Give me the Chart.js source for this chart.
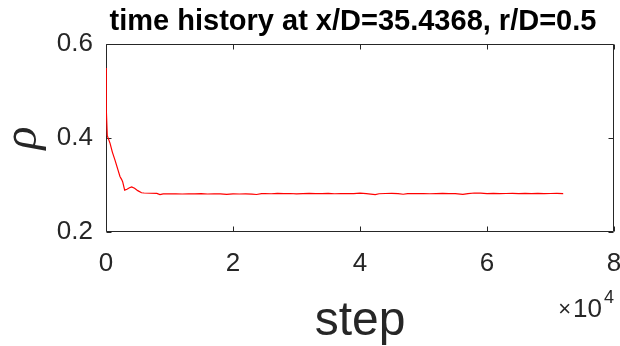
<!DOCTYPE html>
<html>
<head>
<meta charset="utf-8">
<script src="https://cdn.jsdelivr.net/npm/chart.js@4/dist/chart.umd.min.js"></script>
<style>
  html, body { margin: 0; padding: 0; background: #fff; }
  #plot { display: block; }
</style>
</head>
<body>
<canvas id="plot" width="620" height="346"></canvas>
<script>
const titleText = 'time history at x/D=35.4368, r/D=0.5';
const xLabel = 'step';
const yLabel = 'ρ';

// step number and density at the probe
const steps = [
  0, 50, 200, 630, 1000, 1417, 1800, 2200, 2450, 2620, 2940, 3300, 3700, 4040, 4500, 5000, 5600,
  6000, 7000, 8000, 8500, 9000, 10000, 11000, 12000, 13000, 14000, 15000, 16000, 17000, 18000,
  19000, 20000, 21000, 22000, 23000, 23700, 24500, 25000, 26000, 27000, 28000, 29000, 30000,
  31000, 32000, 33000, 34000, 35000, 36000, 37000, 38000, 39000, 40000, 41000, 42400, 43000,
  44000, 45000, 46000, 46800, 47500, 48000, 49000, 50000, 51000, 52000, 53000, 54000, 55000,
  56200, 57000, 58000, 59000, 60000, 61000, 62000, 63000, 64000, 65000, 66000, 67000, 68000,
  69000, 70000, 71000, 72000
];
const rho = [
  0.549, 0.460, 0.405, 0.389, 0.370, 0.353, 0.336, 0.318, 0.312, 0.307, 0.289, 0.291, 0.294, 0.296, 0.293, 0.288, 0.2835,
  0.2830, 0.2824, 0.2822, 0.2795, 0.2812, 0.2810, 0.2814, 0.2808, 0.2812, 0.2810, 0.2815, 0.2809, 0.2811, 0.2813,
  0.2800, 0.2810, 0.2808, 0.2812, 0.2807, 0.2798, 0.2815, 0.2818, 0.2814, 0.2820, 0.2816, 0.2819, 0.2813,
  0.2818, 0.2821, 0.2815, 0.2817, 0.2820, 0.2814, 0.2818, 0.2816, 0.2817, 0.2825, 0.2815, 0.2796, 0.2814,
  0.2819, 0.2822, 0.2817, 0.2803, 0.2816, 0.2818, 0.2815, 0.2819, 0.2814, 0.2817, 0.2820, 0.2815, 0.2818,
  0.2800, 0.2818, 0.2830, 0.2828, 0.2818, 0.2821, 0.2815, 0.2819, 0.2822, 0.2816, 0.2820, 0.2817, 0.2821,
  0.2815, 0.2819, 0.2822, 0.2818
];

const axisColor = '#262626';
const tickFont = { family: '"Liberation Sans", Arial, sans-serif', size: 26 };

// box around the axes with inward tick marks on all four sides
const axesBox = {
  id: 'axesBox',
  beforeDatasetsDraw(chart) {
    const { ctx, chartArea: a, scales: { x, y } } = chart;
    const L = Math.round(a.left) + 0.5, R = Math.round(a.right) - 0.5;
    const T = Math.round(a.top) + 0.5, B = Math.round(a.bottom) - 0.5;
    const len = 5;
    ctx.save();
    ctx.strokeStyle = axisColor;
    ctx.lineWidth = 1;
    ctx.beginPath();
    ctx.rect(L, T, R - L, B - T);
    x.ticks.forEach(t => {
      const px = Math.round(x.getPixelForValue(t.value)) + 0.5;
      ctx.moveTo(px, B); ctx.lineTo(px, B - len);
      ctx.moveTo(px, T); ctx.lineTo(px, T + len);
    });
    y.ticks.forEach(t => {
      const py = Math.round(y.getPixelForValue(t.value)) + 0.5;
      ctx.moveTo(L, py); ctx.lineTo(L + len, py);
      ctx.moveTo(R, py); ctx.lineTo(R - len, py);
    });
    ctx.stroke();
    ctx.restore();
  },
  afterDraw(chart) {
    const { ctx, chartArea: a } = chart;
    ctx.save();
    // title over the axes
    ctx.fillStyle = '#000';
    ctx.font = 'bold 29px "Liberation Sans", Arial, sans-serif';
    ctx.textAlign = 'center';
    ctx.textBaseline = 'alphabetic';
    ctx.fillText(titleText, (a.left + a.right) / 2 - 7, 30);
    // x10^4 multiplier under the right end of the x axis
    ctx.fillStyle = axisColor;
    ctx.textAlign = 'right';
    ctx.font = '26px "Liberation Sans", Arial, sans-serif';
    ctx.fillText('10', a.right - 12, 317);
    ctx.font = '22px "Liberation Sans", Arial, sans-serif';
    ctx.fillText('×', a.right - 43, 316);
    ctx.textAlign = 'left';
    ctx.font = '18px "Liberation Sans", Arial, sans-serif';
    ctx.fillText('4', a.right - 10, 303);
    ctx.restore();
  }
};

new Chart(document.getElementById('plot'), {
  type: 'line',
  data: {
    datasets: [{
      data: steps.map((s, i) => ({ x: s, y: rho[i] })),
      borderColor: '#ff0000',
      borderWidth: 1.2,
      pointRadius: 0,
      tension: 0,
      fill: false
    }]
  },
  plugins: [axesBox],
  options: {
    responsive: false,
    animation: false,
    devicePixelRatio: 1,
    layout: { padding: { top: 44, right: 6, bottom: 0, left: 0 } },
    plugins: {
      legend: { display: false },
      tooltip: { enabled: false },
      title: { display: false }
    },
    scales: {
      x: {
        type: 'linear',
        min: 0,
        max: 80000,
        grid: { display: false, drawTicks: false },
        border: { display: false },
        ticks: {
          stepSize: 20000,
          autoSkip: false,
          maxRotation: 0,
          padding: 16,
          color: axisColor,
          font: tickFont,
          callback: v => String(v / 10000)
        },
        title: {
          display: true,
          text: xLabel,
          color: axisColor,
          font: { family: '"Liberation Sans", Arial, sans-serif', size: 48, lineHeight: 1 },
          padding: 0
        },
        afterFit(scale) {
          scale.height = 114;
          scale.paddingLeft = 0;
          scale.paddingRight = 0;
        }
      },
      y: {
        min: 0.2,
        max: 0.6,
        grid: { display: false, drawTicks: false },
        border: { display: false },
        ticks: {
          stepSize: 0.2,
          padding: 13,
          color: axisColor,
          font: tickFont,
          callback: v => v.toFixed(1)
        },
        title: {
          display: true,
          text: yLabel,
          color: axisColor,
          font: { family: '"Liberation Serif", "DejaVu Serif", serif', style: 'italic', size: 48, lineHeight: 0.9 },
          padding: { top: 2 }
        },
        afterFit(scale) {
          scale.width = 106;
          scale.paddingTop = 0;
          scale.paddingBottom = 0;
        }
      }
    }
  }
});
</script>
</body>
</html>
